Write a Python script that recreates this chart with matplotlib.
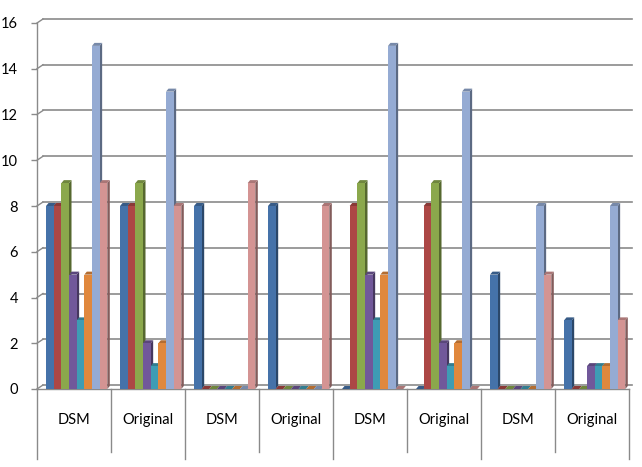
import numpy as np
import matplotlib
matplotlib.use("Agg")
from matplotlib import pyplot as plt
from matplotlib import colors as mcolors
from matplotlib.patches import Polygon
from matplotlib.transforms import blended_transform_factory

CATEGORIES = ["DSM", "Original", "DSM", "Original", "DSM", "Original", "DSM", "Original"]

# one list per series, one value per category
SERIES_BLUE = [8, 8, 8, 8, 0, 0, 5, 3]
SERIES_RED = [8, 8, 0, 0, 8, 8, 0, 0]
SERIES_GREEN = [9, 9, 0, 0, 9, 9, 0, 0]
SERIES_PURPLE = [5, 2, 0, 0, 5, 2, 0, 1]
SERIES_TEAL = [3, 1, 0, 0, 3, 1, 0, 1]
SERIES_ORANGE = [5, 2, 0, 0, 5, 2, 0, 1]
SERIES_LIGHTBLUE = [15, 13, 0, 0, 15, 13, 8, 8]
SERIES_PINK = [9, 8, 9, 8, 0, 0, 5, 3]

SERIES = [SERIES_BLUE, SERIES_RED, SERIES_GREEN, SERIES_PURPLE,
          SERIES_TEAL, SERIES_ORANGE, SERIES_LIGHTBLUE, SERIES_PINK]
COLORS = ["#4572A9", "#AC4745", "#8BA84C", "#71589A",
          "#3E9CB4", "#E0883D", "#95ABD3", "#D49493"]

Y_TICKS = [0, 2, 4, 6, 8, 10, 12, 14, 16]

FIG_W, FIG_H, DPI = 642, 467, 100
AX_LEFT, AX_RIGHT, AX_TOP, AX_BOTTOM = 37, 629, 23, 389
GRID_COLOR = "#8a8a8a"

BAR_WIDTH = 0.1035
CLUSTER_SHIFT = 0.036
DEPTH_PX = (2.5, 3.0)   # side face of the 3d bars
WALL_PX = (6, 4)        # offset of the back wall gridlines


def shade(color, factor):
    r, g, b = mcolors.to_rgb(color)
    return (r * factor, g * factor, b * factor)


def make_axes():
    fig = plt.figure(figsize=(FIG_W / DPI, FIG_H / DPI), dpi=DPI)
    ax = fig.add_axes([
        AX_LEFT / FIG_W,
        (FIG_H - AX_BOTTOM) / FIG_H,
        (AX_RIGHT - AX_LEFT) / FIG_W,
        (AX_BOTTOM - AX_TOP) / FIG_H,
    ])
    ax.set_xlim(-0.5, len(CATEGORIES) - 0.5)
    ax.set_ylim(Y_TICKS[0], Y_TICKS[-1])
    return fig, ax


def draw_bars(ax):
    px_x = len(CATEGORIES) / (AX_RIGHT - AX_LEFT)
    px_y = (Y_TICKS[-1] - Y_TICKS[0]) / (AX_BOTTOM - AX_TOP)
    dx, dy = DEPTH_PX[0] * px_x, DEPTH_PX[1] * px_y
    x = np.arange(len(CATEGORIES))
    for k, (values, color) in enumerate(zip(SERIES, COLORS)):
        pos = x + (k - 3.5) * BAR_WIDTH + CLUSTER_SHIFT
        ax.bar(pos, values, width=BAR_WIDTH, color=color, linewidth=0, zorder=4 + 2 * k)
        for p, v in zip(pos, values):
            left, right = p - BAR_WIDTH / 2, p + BAR_WIDTH / 2
            side = [(right, 0), (right, v), (right + dx, v + dy), (right + dx, dy)]
            top = [(left, v), (right, v), (right + dx, v + dy), (left + dx, v + dy)]
            ax.add_patch(Polygon(side, closed=True, color=shade(color, 0.62),
                                 linewidth=0, zorder=3 + 2 * k))
            ax.add_patch(Polygon(top, closed=True, color=shade(color, 0.8),
                                 linewidth=0, zorder=3 + 2 * k))


def decorate_axes(ax):
    width_px = AX_RIGHT - AX_LEFT
    px_y = (Y_TICKS[-1] - Y_TICKS[0]) / (AX_BOTTOM - AX_TOP)
    wall_x = WALL_PX[0] / width_px
    wall_y = WALL_PX[1] * px_y
    trans = blended_transform_factory(ax.transAxes, ax.transData)
    for y in Y_TICKS:
        ax.plot([0, wall_x], [y, y + wall_y], color=GRID_COLOR, lw=1.0,
                transform=trans, clip_on=False, zorder=1)
        ax.plot([wall_x, 1 + 3 / width_px], [y + wall_y, y + wall_y], color=GRID_COLOR,
                lw=1.2, transform=trans, clip_on=False, zorder=1)

    for name in ("top", "right"):
        ax.spines[name].set_visible(False)
    for name in ("left", "bottom"):
        ax.spines[name].set_color(GRID_COLOR)
        ax.spines[name].set_linewidth(1.0)

    ax.set_yticks(Y_TICKS)
    ax.tick_params(axis="y", direction="out", length=4, width=1.0, color=GRID_COLOR,
                   pad=9.5, labelsize=10.5, labelcolor="#000000")
    ax.set_xticks([])

    # two level category axis: inner labels and divider lines
    height_px = AX_BOTTOM - AX_TOP
    xtrans = blended_transform_factory(ax.transData, ax.transAxes)
    for i, label in enumerate(CATEGORIES):
        ax.text(i, -31 / height_px, label, transform=xtrans, ha="center", va="center",
                fontsize=10.5)
    for i in range(len(CATEGORIES) + 1):
        edge = i - 0.5
        depth = 70 if i % 2 == 0 else 63
        ax.plot([edge, edge], [0, -depth / height_px], color=GRID_COLOR, lw=1.0,
                transform=xtrans, clip_on=False)


def main():
    plt.rcParams["font.family"] = ["Lato", "DejaVu Sans"]
    fig, ax = make_axes()
    draw_bars(ax)
    decorate_axes(ax)
    fig.savefig("out.png", dpi=DPI)


if __name__ == "__main__":
    main()
